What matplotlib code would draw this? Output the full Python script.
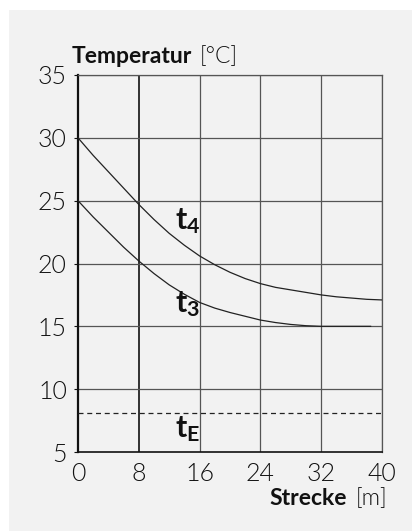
import matplotlib
matplotlib.use("Agg")
import matplotlib.pyplot as plt
from matplotlib.patches import Rectangle

# values
strecke = [0, 2, 4, 6, 8, 10, 12, 14, 16, 18, 20, 22, 24, 26, 28, 30, 32, 34, 36, 38, 40]
t4 = [30, 28.6, 27.3, 26.0, 24.7, 23.5, 22.4, 21.45, 20.6, 19.9, 19.3,
      18.8, 18.4, 18.1, 17.9, 17.7, 17.5, 17.35, 17.25, 17.15, 17.1]
strecke_t3 = [0, 2, 4, 6, 8, 10, 12, 14, 16, 18, 20, 22, 24, 26, 28, 30, 32, 34, 36, 38.5]
t3 = [25, 23.7, 22.5, 21.3, 20.2, 19.2, 18.3, 17.55, 16.9, 16.45, 16.1,
      15.8, 15.5, 15.3, 15.15, 15.05, 15.0, 15.0, 15.0, 15.0]
t_e = 8.1
x_ticks = [0, 8, 16, 24, 32, 40]
y_ticks = [5, 10, 15, 20, 25, 30, 35]

plt.rcParams['font.family'] = ['Lato', 'DejaVu Sans']
plt.rcParams['mathtext.fontset'] = 'custom'
plt.rcParams['mathtext.bf'] = 'Lato:bold'
plt.rcParams['mathtext.rm'] = 'Lato'

W, H = 412, 531
fig = plt.figure(figsize=(W / 100, H / 100), dpi=100)
fig.patch.set_facecolor('white')
fig.patches.append(Rectangle((9 / W, 0), 1 - 9 / W, 1 - 10 / H,
                             transform=fig.transFigure, facecolor='#f2f2f2',
                             edgecolor='none', zorder=-5))

ax = fig.add_axes([78 / W, 1 - 452 / H, (382 - 78) / W, (452 - 75) / H])
ax.set_facecolor('#f2f2f2')
ax.set_xlim(0, 40)
ax.set_ylim(5, 35)
ax.set_xticks(x_ticks)
ax.set_yticks(y_ticks)

# grid
for xv in x_ticks[1:]:
    col, lw = ('#111111', 1.2) if xv == 8 else ('#555555', 0.9)
    ax.axvline(xv, color=col, lw=lw, zorder=1)
for yv in y_ticks[1:]:
    ax.axhline(yv, color='#555555', lw=0.9, zorder=1)

for s in ['top', 'right']:
    ax.spines[s].set_color('#555555')
    ax.spines[s].set_linewidth(0.9)
ax.spines['left'].set_linewidth(1.6)
ax.spines['bottom'].set_linewidth(1.2)
ax.spines['left'].set_color('#111111')
ax.spines['bottom'].set_color('#111111')

ax.plot(strecke, t4, color='#222222', lw=0.9, zorder=3)
ax.plot(strecke_t3, t3, color='#222222', lw=0.9, zorder=3)
ax.axhline(t_e, color='#222222', lw=0.9, dashes=(4, 3), zorder=3)

ax.text(12.7, 22.7, r'$\mathbf{t_4}$', fontsize=22, color='#111111')
ax.text(12.7, 16.15, r'$\mathbf{t_3}$', fontsize=22, color='#111111')
ax.text(12.7, 6.2, r'$\mathbf{t_E}$', fontsize=22, color='#111111')

ax.tick_params(axis='y', length=3, width=0.8, pad=5, labelsize=18, colors='#111111')
ax.tick_params(axis='x', length=0, pad=7, labelsize=18, colors='#111111')
for lab in ax.get_xticklabels() + ax.get_yticklabels():
    lab.set_fontweight(300)

# axis titles
fig.canvas.draw()
r = fig.canvas.get_renderer()
t1 = fig.text(72 / W, 1 - 63 / H, 'Temperatur', fontsize=16.5, fontweight='bold',
              color='#111111')
bb = t1.get_window_extent(r)
fig.text(bb.x1 / W + 7 / W, 1 - 63 / H, '[°C]', fontsize=16.5, color='#111111',
         fontweight=300)

t2 = fig.text(387 / W, 1 - 505 / H, '[m]', fontsize=16.5, color='#111111', ha='right',
              fontweight=300)
bb2 = t2.get_window_extent(r)
fig.text(bb2.x0 / W - 8 / W, 1 - 505 / H, 'Strecke', fontsize=16.5,
         fontweight='bold', color='#111111', ha='right')

fig.savefig('out.png', dpi=100)
